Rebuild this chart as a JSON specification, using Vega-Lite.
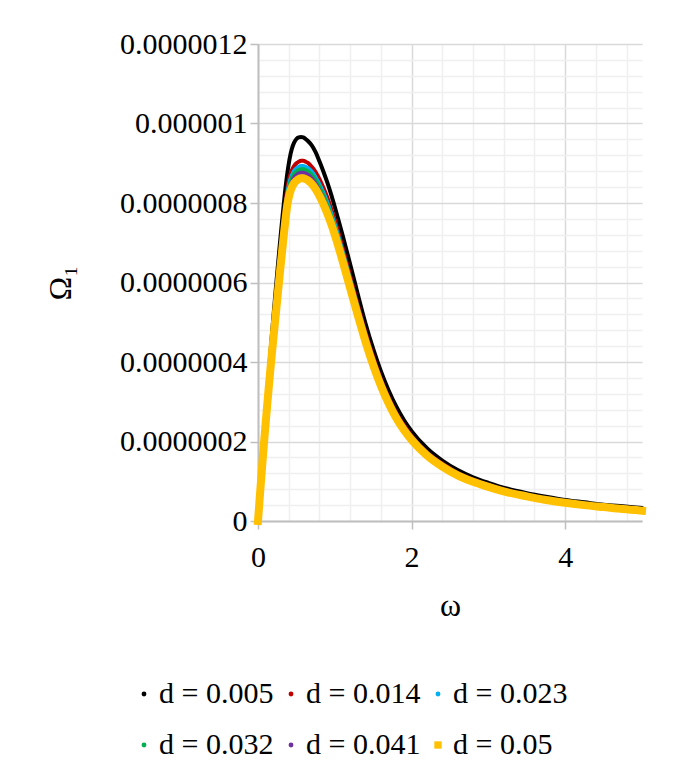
{
  "$schema": "https://vega.github.io/schema/vega-lite/v6.json",
  "width": 384,
  "height": 477,
  "autosize": "none",
  "padding": {"left": 258, "top": 44, "right": 31, "bottom": 258},
  "background": "white",
  "config": {
    "font": "Liberation Serif",
    "view": {"stroke": null},
    "axis": {
      "labelFont": "Liberation Serif",
      "titleFont": "Liberation Serif",
      "labelColor": "#000000",
      "titleColor": "#000000",
      "titleFontWeight": "normal",
      "domainColor": "#bfbfbf",
      "domainWidth": 2,
      "gridWidth": 1.5,
      "tickWidth": 1.5
    },
    "legend": {
      "labelFont": "Liberation Serif",
      "labelFontSize": 30,
      "labelColor": "#000000"
    }
  },
  "data": {
    "values": [
      {"w":0,"d":"d = 0.005","v":0},
      {"w":0.01,"d":"d = 0.005","v":0.028e-6},
      {"w":0.02,"d":"d = 0.005","v":0.056e-6},
      {"w":0.03,"d":"d = 0.005","v":0.084e-6},
      {"w":0.04,"d":"d = 0.005","v":0.111e-6},
      {"w":0.05,"d":"d = 0.005","v":0.138e-6},
      {"w":0.06,"d":"d = 0.005","v":0.165e-6},
      {"w":0.07,"d":"d = 0.005","v":0.192e-6},
      {"w":0.08,"d":"d = 0.005","v":0.218e-6},
      {"w":0.09,"d":"d = 0.005","v":0.244e-6},
      {"w":0.10,"d":"d = 0.005","v":0.270e-6},
      {"w":0.12,"d":"d = 0.005","v":0.321e-6},
      {"w":0.14,"d":"d = 0.005","v":0.371e-6},
      {"w":0.16,"d":"d = 0.005","v":0.420e-6},
      {"w":0.18,"d":"d = 0.005","v":0.467e-6},
      {"w":0.20,"d":"d = 0.005","v":0.513e-6},
      {"w":0.23,"d":"d = 0.005","v":0.580e-6},
      {"w":0.26,"d":"d = 0.005","v":0.645e-6},
      {"w":0.29,"d":"d = 0.005","v":0.708e-6},
      {"w":0.32,"d":"d = 0.005","v":0.768e-6},
      {"w":0.35,"d":"d = 0.005","v":0.824e-6},
      {"w":0.38,"d":"d = 0.005","v":0.872e-6},
      {"w":0.41,"d":"d = 0.005","v":0.910e-6},
      {"w":0.44,"d":"d = 0.005","v":0.936e-6},
      {"w":0.47,"d":"d = 0.005","v":0.952e-6},
      {"w":0.50,"d":"d = 0.005","v":0.961e-6},
      {"w":0.53,"d":"d = 0.005","v":0.965e-6},
      {"w":0.56,"d":"d = 0.005","v":0.966e-6},
      {"w":0.59,"d":"d = 0.005","v":0.965e-6},
      {"w":0.62,"d":"d = 0.005","v":0.961e-6},
      {"w":0.65,"d":"d = 0.005","v":0.956e-6},
      {"w":0.70,"d":"d = 0.005","v":0.945e-6},
      {"w":0.75,"d":"d = 0.005","v":0.928e-6},
      {"w":0.80,"d":"d = 0.005","v":0.905e-6},
      {"w":0.85,"d":"d = 0.005","v":0.880e-6},
      {"w":0.90,"d":"d = 0.005","v":0.853e-6},
      {"w":0.95,"d":"d = 0.005","v":0.823e-6},
      {"w":1.00,"d":"d = 0.005","v":0.790e-6},
      {"w":1.10,"d":"d = 0.005","v":0.720e-6},
      {"w":1.20,"d":"d = 0.005","v":0.646e-6},
      {"w":1.30,"d":"d = 0.005","v":0.570e-6},
      {"w":1.40,"d":"d = 0.005","v":0.497e-6},
      {"w":1.50,"d":"d = 0.005","v":0.433e-6},
      {"w":1.60,"d":"d = 0.005","v":0.377e-6},
      {"w":1.70,"d":"d = 0.005","v":0.329e-6},
      {"w":1.80,"d":"d = 0.005","v":0.288e-6},
      {"w":1.90,"d":"d = 0.005","v":0.254e-6},
      {"w":2.00,"d":"d = 0.005","v":0.226e-6},
      {"w":2.20,"d":"d = 0.005","v":0.183e-6},
      {"w":2.40,"d":"d = 0.005","v":0.152e-6},
      {"w":2.60,"d":"d = 0.005","v":0.128e-6},
      {"w":2.80,"d":"d = 0.005","v":0.110e-6},
      {"w":3.00,"d":"d = 0.005","v":0.096e-6},
      {"w":3.25,"d":"d = 0.005","v":0.081e-6},
      {"w":3.50,"d":"d = 0.005","v":0.070e-6},
      {"w":3.75,"d":"d = 0.005","v":0.061e-6},
      {"w":4.00,"d":"d = 0.005","v":0.053e-6},
      {"w":4.25,"d":"d = 0.005","v":0.047e-6},
      {"w":4.50,"d":"d = 0.005","v":0.041e-6},
      {"w":4.75,"d":"d = 0.005","v":0.037e-6},
      {"w":5.00,"d":"d = 0.005","v":0.033e-6},

      {"w":0,"d":"d = 0.014","v":0},
      {"w":0.01,"d":"d = 0.014","v":0.027e-6},
      {"w":0.02,"d":"d = 0.014","v":0.055e-6},
      {"w":0.03,"d":"d = 0.014","v":0.082e-6},
      {"w":0.04,"d":"d = 0.014","v":0.108e-6},
      {"w":0.05,"d":"d = 0.014","v":0.135e-6},
      {"w":0.06,"d":"d = 0.014","v":0.161e-6},
      {"w":0.07,"d":"d = 0.014","v":0.186e-6},
      {"w":0.08,"d":"d = 0.014","v":0.211e-6},
      {"w":0.09,"d":"d = 0.014","v":0.235e-6},
      {"w":0.10,"d":"d = 0.014","v":0.260e-6},
      {"w":0.12,"d":"d = 0.014","v":0.307e-6},
      {"w":0.14,"d":"d = 0.014","v":0.353e-6},
      {"w":0.16,"d":"d = 0.014","v":0.398e-6},
      {"w":0.18,"d":"d = 0.014","v":0.441e-6},
      {"w":0.20,"d":"d = 0.014","v":0.482e-6},
      {"w":0.23,"d":"d = 0.014","v":0.543e-6},
      {"w":0.26,"d":"d = 0.014","v":0.605e-6},
      {"w":0.29,"d":"d = 0.014","v":0.666e-6},
      {"w":0.32,"d":"d = 0.014","v":0.725e-6},
      {"w":0.35,"d":"d = 0.014","v":0.783e-6},
      {"w":0.38,"d":"d = 0.014","v":0.833e-6},
      {"w":0.41,"d":"d = 0.014","v":0.864e-6},
      {"w":0.44,"d":"d = 0.014","v":0.882e-6},
      {"w":0.47,"d":"d = 0.014","v":0.893e-6},
      {"w":0.50,"d":"d = 0.014","v":0.900e-6},
      {"w":0.53,"d":"d = 0.014","v":0.904e-6},
      {"w":0.56,"d":"d = 0.014","v":0.906e-6},
      {"w":0.59,"d":"d = 0.014","v":0.906e-6},
      {"w":0.62,"d":"d = 0.014","v":0.904e-6},
      {"w":0.65,"d":"d = 0.014","v":0.901e-6},
      {"w":0.70,"d":"d = 0.014","v":0.891e-6},
      {"w":0.75,"d":"d = 0.014","v":0.878e-6},
      {"w":0.80,"d":"d = 0.014","v":0.860e-6},
      {"w":0.85,"d":"d = 0.014","v":0.839e-6},
      {"w":0.90,"d":"d = 0.014","v":0.815e-6},
      {"w":0.95,"d":"d = 0.014","v":0.787e-6},
      {"w":1.00,"d":"d = 0.014","v":0.757e-6},
      {"w":1.10,"d":"d = 0.014","v":0.688e-6},
      {"w":1.20,"d":"d = 0.014","v":0.616e-6},
      {"w":1.30,"d":"d = 0.014","v":0.543e-6},
      {"w":1.40,"d":"d = 0.014","v":0.474e-6},
      {"w":1.50,"d":"d = 0.014","v":0.412e-6},
      {"w":1.60,"d":"d = 0.014","v":0.357e-6},
      {"w":1.70,"d":"d = 0.014","v":0.311e-6},
      {"w":1.80,"d":"d = 0.014","v":0.272e-6},
      {"w":1.90,"d":"d = 0.014","v":0.241e-6},
      {"w":2.00,"d":"d = 0.014","v":0.214e-6},
      {"w":2.20,"d":"d = 0.014","v":0.173e-6},
      {"w":2.40,"d":"d = 0.014","v":0.144e-6},
      {"w":2.60,"d":"d = 0.014","v":0.121e-6},
      {"w":2.80,"d":"d = 0.014","v":0.104e-6},
      {"w":3.00,"d":"d = 0.014","v":0.090e-6},
      {"w":3.25,"d":"d = 0.014","v":0.076e-6},
      {"w":3.50,"d":"d = 0.014","v":0.065e-6},
      {"w":3.75,"d":"d = 0.014","v":0.056e-6},
      {"w":4.00,"d":"d = 0.014","v":0.048e-6},
      {"w":4.25,"d":"d = 0.014","v":0.042e-6},
      {"w":4.50,"d":"d = 0.014","v":0.037e-6},
      {"w":4.75,"d":"d = 0.014","v":0.032e-6},
      {"w":5.00,"d":"d = 0.014","v":0.027e-6},

      {"w":0,"d":"d = 0.023","v":0},
      {"w":0.01,"d":"d = 0.023","v":0.027e-6},
      {"w":0.02,"d":"d = 0.023","v":0.054e-6},
      {"w":0.03,"d":"d = 0.023","v":0.081e-6},
      {"w":0.04,"d":"d = 0.023","v":0.107e-6},
      {"w":0.05,"d":"d = 0.023","v":0.133e-6},
      {"w":0.06,"d":"d = 0.023","v":0.159e-6},
      {"w":0.07,"d":"d = 0.023","v":0.183e-6},
      {"w":0.08,"d":"d = 0.023","v":0.208e-6},
      {"w":0.09,"d":"d = 0.023","v":0.232e-6},
      {"w":0.10,"d":"d = 0.023","v":0.256e-6},
      {"w":0.12,"d":"d = 0.023","v":0.303e-6},
      {"w":0.14,"d":"d = 0.023","v":0.348e-6},
      {"w":0.16,"d":"d = 0.023","v":0.393e-6},
      {"w":0.18,"d":"d = 0.023","v":0.435e-6},
      {"w":0.20,"d":"d = 0.023","v":0.476e-6},
      {"w":0.23,"d":"d = 0.023","v":0.536e-6},
      {"w":0.26,"d":"d = 0.023","v":0.597e-6},
      {"w":0.29,"d":"d = 0.023","v":0.657e-6},
      {"w":0.32,"d":"d = 0.023","v":0.715e-6},
      {"w":0.35,"d":"d = 0.023","v":0.772e-6},
      {"w":0.38,"d":"d = 0.023","v":0.822e-6},
      {"w":0.41,"d":"d = 0.023","v":0.852e-6},
      {"w":0.44,"d":"d = 0.023","v":0.869e-6},
      {"w":0.47,"d":"d = 0.023","v":0.881e-6},
      {"w":0.50,"d":"d = 0.023","v":0.887e-6},
      {"w":0.53,"d":"d = 0.023","v":0.891e-6},
      {"w":0.56,"d":"d = 0.023","v":0.893e-6},
      {"w":0.59,"d":"d = 0.023","v":0.893e-6},
      {"w":0.62,"d":"d = 0.023","v":0.891e-6},
      {"w":0.65,"d":"d = 0.023","v":0.888e-6},
      {"w":0.70,"d":"d = 0.023","v":0.879e-6},
      {"w":0.75,"d":"d = 0.023","v":0.865e-6},
      {"w":0.80,"d":"d = 0.023","v":0.847e-6},
      {"w":0.85,"d":"d = 0.023","v":0.827e-6},
      {"w":0.90,"d":"d = 0.023","v":0.803e-6},
      {"w":0.95,"d":"d = 0.023","v":0.776e-6},
      {"w":1.00,"d":"d = 0.023","v":0.746e-6},
      {"w":1.10,"d":"d = 0.023","v":0.679e-6},
      {"w":1.20,"d":"d = 0.023","v":0.607e-6},
      {"w":1.30,"d":"d = 0.023","v":0.536e-6},
      {"w":1.40,"d":"d = 0.023","v":0.467e-6},
      {"w":1.50,"d":"d = 0.023","v":0.406e-6},
      {"w":1.60,"d":"d = 0.023","v":0.352e-6},
      {"w":1.70,"d":"d = 0.023","v":0.307e-6},
      {"w":1.80,"d":"d = 0.023","v":0.268e-6},
      {"w":1.90,"d":"d = 0.023","v":0.237e-6},
      {"w":2.00,"d":"d = 0.023","v":0.211e-6},
      {"w":2.20,"d":"d = 0.023","v":0.171e-6},
      {"w":2.40,"d":"d = 0.023","v":0.142e-6},
      {"w":2.60,"d":"d = 0.023","v":0.119e-6},
      {"w":2.80,"d":"d = 0.023","v":0.103e-6},
      {"w":3.00,"d":"d = 0.023","v":0.089e-6},
      {"w":3.25,"d":"d = 0.023","v":0.075e-6},
      {"w":3.50,"d":"d = 0.023","v":0.064e-6},
      {"w":3.75,"d":"d = 0.023","v":0.055e-6},
      {"w":4.00,"d":"d = 0.023","v":0.048e-6},
      {"w":4.25,"d":"d = 0.023","v":0.041e-6},
      {"w":4.50,"d":"d = 0.023","v":0.036e-6},
      {"w":4.75,"d":"d = 0.023","v":0.031e-6},
      {"w":5.00,"d":"d = 0.023","v":0.027e-6},

      {"w":0,"d":"d = 0.032","v":0},
      {"w":0.01,"d":"d = 0.032","v":0.027e-6},
      {"w":0.02,"d":"d = 0.032","v":0.053e-6},
      {"w":0.03,"d":"d = 0.032","v":0.080e-6},
      {"w":0.04,"d":"d = 0.032","v":0.106e-6},
      {"w":0.05,"d":"d = 0.032","v":0.131e-6},
      {"w":0.06,"d":"d = 0.032","v":0.157e-6},
      {"w":0.07,"d":"d = 0.032","v":0.182e-6},
      {"w":0.08,"d":"d = 0.032","v":0.206e-6},
      {"w":0.09,"d":"d = 0.032","v":0.230e-6},
      {"w":0.10,"d":"d = 0.032","v":0.254e-6},
      {"w":0.12,"d":"d = 0.032","v":0.300e-6},
      {"w":0.14,"d":"d = 0.032","v":0.345e-6},
      {"w":0.16,"d":"d = 0.032","v":0.389e-6},
      {"w":0.18,"d":"d = 0.032","v":0.431e-6},
      {"w":0.20,"d":"d = 0.032","v":0.471e-6},
      {"w":0.23,"d":"d = 0.032","v":0.531e-6},
      {"w":0.26,"d":"d = 0.032","v":0.592e-6},
      {"w":0.29,"d":"d = 0.032","v":0.651e-6},
      {"w":0.32,"d":"d = 0.032","v":0.709e-6},
      {"w":0.35,"d":"d = 0.032","v":0.765e-6},
      {"w":0.38,"d":"d = 0.032","v":0.814e-6},
      {"w":0.41,"d":"d = 0.032","v":0.844e-6},
      {"w":0.44,"d":"d = 0.032","v":0.862e-6},
      {"w":0.47,"d":"d = 0.032","v":0.873e-6},
      {"w":0.50,"d":"d = 0.032","v":0.879e-6},
      {"w":0.53,"d":"d = 0.032","v":0.883e-6},
      {"w":0.56,"d":"d = 0.032","v":0.885e-6},
      {"w":0.59,"d":"d = 0.032","v":0.885e-6},
      {"w":0.62,"d":"d = 0.032","v":0.883e-6},
      {"w":0.65,"d":"d = 0.032","v":0.880e-6},
      {"w":0.70,"d":"d = 0.032","v":0.871e-6},
      {"w":0.75,"d":"d = 0.032","v":0.858e-6},
      {"w":0.80,"d":"d = 0.032","v":0.840e-6},
      {"w":0.85,"d":"d = 0.032","v":0.820e-6},
      {"w":0.90,"d":"d = 0.032","v":0.796e-6},
      {"w":0.95,"d":"d = 0.032","v":0.769e-6},
      {"w":1.00,"d":"d = 0.032","v":0.739e-6},
      {"w":1.10,"d":"d = 0.032","v":0.673e-6},
      {"w":1.20,"d":"d = 0.032","v":0.602e-6},
      {"w":1.30,"d":"d = 0.032","v":0.531e-6},
      {"w":1.40,"d":"d = 0.032","v":0.463e-6},
      {"w":1.50,"d":"d = 0.032","v":0.403e-6},
      {"w":1.60,"d":"d = 0.032","v":0.349e-6},
      {"w":1.70,"d":"d = 0.032","v":0.304e-6},
      {"w":1.80,"d":"d = 0.032","v":0.266e-6},
      {"w":1.90,"d":"d = 0.032","v":0.235e-6},
      {"w":2.00,"d":"d = 0.032","v":0.210e-6},
      {"w":2.20,"d":"d = 0.032","v":0.169e-6},
      {"w":2.40,"d":"d = 0.032","v":0.141e-6},
      {"w":2.60,"d":"d = 0.032","v":0.118e-6},
      {"w":2.80,"d":"d = 0.032","v":0.102e-6},
      {"w":3.00,"d":"d = 0.032","v":0.088e-6},
      {"w":3.25,"d":"d = 0.032","v":0.074e-6},
      {"w":3.50,"d":"d = 0.032","v":0.064e-6},
      {"w":3.75,"d":"d = 0.032","v":0.054e-6},
      {"w":4.00,"d":"d = 0.032","v":0.047e-6},
      {"w":4.25,"d":"d = 0.032","v":0.041e-6},
      {"w":4.50,"d":"d = 0.032","v":0.036e-6},
      {"w":4.75,"d":"d = 0.032","v":0.031e-6},
      {"w":5.00,"d":"d = 0.032","v":0.027e-6},

      {"w":0,"d":"d = 0.041","v":0},
      {"w":0.01,"d":"d = 0.041","v":0.026e-6},
      {"w":0.02,"d":"d = 0.041","v":0.053e-6},
      {"w":0.03,"d":"d = 0.041","v":0.079e-6},
      {"w":0.04,"d":"d = 0.041","v":0.105e-6},
      {"w":0.05,"d":"d = 0.041","v":0.130e-6},
      {"w":0.06,"d":"d = 0.041","v":0.155e-6},
      {"w":0.07,"d":"d = 0.041","v":0.180e-6},
      {"w":0.08,"d":"d = 0.041","v":0.204e-6},
      {"w":0.09,"d":"d = 0.041","v":0.228e-6},
      {"w":0.10,"d":"d = 0.041","v":0.251e-6},
      {"w":0.12,"d":"d = 0.041","v":0.297e-6},
      {"w":0.14,"d":"d = 0.041","v":0.341e-6},
      {"w":0.16,"d":"d = 0.041","v":0.385e-6},
      {"w":0.18,"d":"d = 0.041","v":0.427e-6},
      {"w":0.20,"d":"d = 0.041","v":0.466e-6},
      {"w":0.23,"d":"d = 0.041","v":0.525e-6},
      {"w":0.26,"d":"d = 0.041","v":0.585e-6},
      {"w":0.29,"d":"d = 0.041","v":0.644e-6},
      {"w":0.32,"d":"d = 0.041","v":0.701e-6},
      {"w":0.35,"d":"d = 0.041","v":0.757e-6},
      {"w":0.38,"d":"d = 0.041","v":0.806e-6},
      {"w":0.41,"d":"d = 0.041","v":0.835e-6},
      {"w":0.44,"d":"d = 0.041","v":0.852e-6},
      {"w":0.47,"d":"d = 0.041","v":0.864e-6},
      {"w":0.50,"d":"d = 0.041","v":0.870e-6},
      {"w":0.53,"d":"d = 0.041","v":0.874e-6},
      {"w":0.56,"d":"d = 0.041","v":0.876e-6},
      {"w":0.59,"d":"d = 0.041","v":0.876e-6},
      {"w":0.62,"d":"d = 0.041","v":0.874e-6},
      {"w":0.65,"d":"d = 0.041","v":0.871e-6},
      {"w":0.70,"d":"d = 0.041","v":0.862e-6},
      {"w":0.75,"d":"d = 0.041","v":0.848e-6},
      {"w":0.80,"d":"d = 0.041","v":0.831e-6},
      {"w":0.85,"d":"d = 0.041","v":0.811e-6},
      {"w":0.90,"d":"d = 0.041","v":0.787e-6},
      {"w":0.95,"d":"d = 0.041","v":0.761e-6},
      {"w":1.00,"d":"d = 0.041","v":0.732e-6},
      {"w":1.10,"d":"d = 0.041","v":0.665e-6},
      {"w":1.20,"d":"d = 0.041","v":0.595e-6},
      {"w":1.30,"d":"d = 0.041","v":0.525e-6},
      {"w":1.40,"d":"d = 0.041","v":0.458e-6},
      {"w":1.50,"d":"d = 0.041","v":0.398e-6},
      {"w":1.60,"d":"d = 0.041","v":0.345e-6},
      {"w":1.70,"d":"d = 0.041","v":0.301e-6},
      {"w":1.80,"d":"d = 0.041","v":0.263e-6},
      {"w":1.90,"d":"d = 0.041","v":0.233e-6},
      {"w":2.00,"d":"d = 0.041","v":0.207e-6},
      {"w":2.20,"d":"d = 0.041","v":0.168e-6},
      {"w":2.40,"d":"d = 0.041","v":0.139e-6},
      {"w":2.60,"d":"d = 0.041","v":0.117e-6},
      {"w":2.80,"d":"d = 0.041","v":0.101e-6},
      {"w":3.00,"d":"d = 0.041","v":0.087e-6},
      {"w":3.25,"d":"d = 0.041","v":0.073e-6},
      {"w":3.50,"d":"d = 0.041","v":0.063e-6},
      {"w":3.75,"d":"d = 0.041","v":0.054e-6},
      {"w":4.00,"d":"d = 0.041","v":0.047e-6},
      {"w":4.25,"d":"d = 0.041","v":0.041e-6},
      {"w":4.50,"d":"d = 0.041","v":0.036e-6},
      {"w":4.75,"d":"d = 0.041","v":0.030e-6},
      {"w":5.00,"d":"d = 0.041","v":0.026e-6},

      {"w":0,"d":"d = 0.05","v":0},
      {"w":0.01,"d":"d = 0.05","v":0.026e-6},
      {"w":0.02,"d":"d = 0.05","v":0.052e-6},
      {"w":0.03,"d":"d = 0.05","v":0.078e-6},
      {"w":0.04,"d":"d = 0.05","v":0.103e-6},
      {"w":0.05,"d":"d = 0.05","v":0.128e-6},
      {"w":0.06,"d":"d = 0.05","v":0.153e-6},
      {"w":0.07,"d":"d = 0.05","v":0.177e-6},
      {"w":0.08,"d":"d = 0.05","v":0.201e-6},
      {"w":0.09,"d":"d = 0.05","v":0.224e-6},
      {"w":0.10,"d":"d = 0.05","v":0.247e-6},
      {"w":0.12,"d":"d = 0.05","v":0.292e-6},
      {"w":0.14,"d":"d = 0.05","v":0.336e-6},
      {"w":0.16,"d":"d = 0.05","v":0.379e-6},
      {"w":0.18,"d":"d = 0.05","v":0.420e-6},
      {"w":0.20,"d":"d = 0.05","v":0.459e-6},
      {"w":0.23,"d":"d = 0.05","v":0.517e-6},
      {"w":0.26,"d":"d = 0.05","v":0.576e-6},
      {"w":0.29,"d":"d = 0.05","v":0.634e-6},
      {"w":0.32,"d":"d = 0.05","v":0.690e-6},
      {"w":0.35,"d":"d = 0.05","v":0.745e-6},
      {"w":0.38,"d":"d = 0.05","v":0.793e-6},
      {"w":0.41,"d":"d = 0.05","v":0.822e-6},
      {"w":0.44,"d":"d = 0.05","v":0.839e-6},
      {"w":0.47,"d":"d = 0.05","v":0.850e-6},
      {"w":0.50,"d":"d = 0.05","v":0.856e-6},
      {"w":0.53,"d":"d = 0.05","v":0.860e-6},
      {"w":0.56,"d":"d = 0.05","v":0.862e-6},
      {"w":0.59,"d":"d = 0.05","v":0.862e-6},
      {"w":0.62,"d":"d = 0.05","v":0.860e-6},
      {"w":0.65,"d":"d = 0.05","v":0.857e-6},
      {"w":0.70,"d":"d = 0.05","v":0.848e-6},
      {"w":0.75,"d":"d = 0.05","v":0.835e-6},
      {"w":0.80,"d":"d = 0.05","v":0.818e-6},
      {"w":0.85,"d":"d = 0.05","v":0.798e-6},
      {"w":0.90,"d":"d = 0.05","v":0.775e-6},
      {"w":0.95,"d":"d = 0.05","v":0.749e-6},
      {"w":1.00,"d":"d = 0.05","v":0.720e-6},
      {"w":1.10,"d":"d = 0.05","v":0.655e-6},
      {"w":1.20,"d":"d = 0.05","v":0.586e-6},
      {"w":1.30,"d":"d = 0.05","v":0.517e-6},
      {"w":1.40,"d":"d = 0.05","v":0.451e-6},
      {"w":1.50,"d":"d = 0.05","v":0.392e-6},
      {"w":1.60,"d":"d = 0.05","v":0.340e-6},
      {"w":1.70,"d":"d = 0.05","v":0.296e-6},
      {"w":1.80,"d":"d = 0.05","v":0.259e-6},
      {"w":1.90,"d":"d = 0.05","v":0.229e-6},
      {"w":2.00,"d":"d = 0.05","v":0.204e-6},
      {"w":2.20,"d":"d = 0.05","v":0.165e-6},
      {"w":2.40,"d":"d = 0.05","v":0.137e-6},
      {"w":2.60,"d":"d = 0.05","v":0.115e-6},
      {"w":2.80,"d":"d = 0.05","v":0.099e-6},
      {"w":3.00,"d":"d = 0.05","v":0.086e-6},
      {"w":3.25,"d":"d = 0.05","v":0.072e-6},
      {"w":3.50,"d":"d = 0.05","v":0.062e-6},
      {"w":3.75,"d":"d = 0.05","v":0.053e-6},
      {"w":4.00,"d":"d = 0.05","v":0.046e-6},
      {"w":4.25,"d":"d = 0.05","v":0.040e-6},
      {"w":4.50,"d":"d = 0.05","v":0.035e-6},
      {"w":4.75,"d":"d = 0.05","v":0.030e-6},
      {"w":5.00,"d":"d = 0.05","v":0.026e-6}
    ]
  },
  "encoding": {
    "x": {
      "field": "w",
      "type": "quantitative",
      "title": "ω",
      "scale": {"domain": [0, 5], "nice": false, "zero": false},
      "axis": {
        "values": [0, 0.4, 0.8, 1.2, 1.6, 2, 2.4, 2.8, 3.2, 3.6, 4, 4.4, 4.8],
        "labelExpr": "datum.value % 2 === 0 ? format(datum.value, 'd') : ''",
        "grid": true,
        "gridColor": {"condition": {"test": "datum.value % 2 === 0", "value": "#d9d9d9"}, "value": "#efefef"},
        "tickColor": {"condition": {"test": "datum.value % 2 === 0", "value": "#bfbfbf"}, "value": "transparent"},
        "tickSize": 8,
        "labelFontSize": 30,
        "labelPadding": 13,
        "labelFlush": false,
        "titleFontSize": 32,
        "titlePadding": 18
      }
    },
    "y": {
      "field": "v",
      "type": "quantitative",
      "title": "Ω₁",
      "scale": {"domain": [0, 1.2e-6], "nice": false},
      "axis": {
        "values": [0, 0.04e-6, 0.08e-6, 0.12e-6, 0.16e-6, 0.2e-6, 0.24e-6, 0.28e-6, 0.32e-6, 0.36e-6, 0.4e-6, 0.44e-6, 0.48e-6, 0.52e-6, 0.56e-6, 0.6e-6, 0.64e-6, 0.68e-6, 0.72e-6, 0.76e-6, 0.8e-6, 0.84e-6, 0.88e-6, 0.92e-6, 0.96e-6, 1.0e-6, 1.04e-6, 1.08e-6, 1.12e-6, 1.16e-6, 1.2e-6],
        "labelExpr": "abs(datum.value / 2e-7 - round(datum.value / 2e-7)) < 0.01 ? format(datum.value, '.7~f') : ''",
        "grid": true,
        "gridColor": {"condition": {"test": "abs(datum.value / 2e-7 - round(datum.value / 2e-7)) < 0.01", "value": "#d9d9d9"}, "value": "#efefef"},
        "tickColor": {"condition": {"test": "abs(datum.value / 2e-7 - round(datum.value / 2e-7)) < 0.01", "value": "#bfbfbf"}, "value": "transparent"},
        "tickSize": 8,
        "labelFontSize": 30,
        "labelPadding": 3,
        "labelFlush": false,
        "titleFontSize": 32,
        "titlePadding": 42
      }
    }
  },
  "layer": [
    {
      "transform": [{"filter": "datum.d !== 'd = 0.05'"}],
      "mark": {"type": "line", "interpolate": "monotone", "strokeWidth": 4, "strokeCap": "round", "strokeJoin": "round"},
      "encoding": {
        "stroke": {
          "field": "d",
          "type": "nominal",
          "legend": null,
          "scale": {
            "domain": ["d = 0.005", "d = 0.014", "d = 0.023", "d = 0.032", "d = 0.041"],
            "range": ["#000000", "#c00000", "#00b0f0", "#00b050", "#7030a0"]
          }
        }
      }
    },
    {
      "transform": [{"filter": "datum.d === 'd = 0.05'"}],
      "mark": {"type": "line", "interpolate": "monotone", "strokeWidth": 8, "strokeCap": "square", "strokeJoin": "round", "color": "#ffc000"},
      "encoding": {}
    },
    {
      "transform": [{"filter": "datum.w < 0"}],
      "mark": {"type": "point", "filled": true, "opacity": 1},
      "encoding": {
        "color": {
          "field": "d",
          "type": "nominal",
          "scale": {
            "domain": ["d = 0.005", "d = 0.014", "d = 0.023", "d = 0.032", "d = 0.041", "d = 0.05"],
            "range": ["#000000", "#c00000", "#00b0f0", "#00b050", "#7030a0", "#ffc000"]
          },
          "legend": {
            "title": null,
            "orient": "none",
            "legendX": -129,
            "legendY": 635,
            "direction": "horizontal",
            "columns": 3,
            "padding": 0,
            "labelFont": "Liberation Serif",
            "labelFontSize": 30,
            "labelColor": "#000000",
            "labelOffset": 0,
            "columnPadding": 2,
            "rowPadding": 21,
            "symbolSize": 24,
            "symbolStrokeWidth": 0,
            "symbolOpacity": 1
          }
        },
        "shape": {
          "field": "d",
          "type": "nominal",
          "scale": {
            "domain": ["d = 0.005", "d = 0.014", "d = 0.023", "d = 0.032", "d = 0.041", "d = 0.05"],
            "range": ["circle", "circle", "circle", "circle", "circle", "M-1.5,-1.5H1.5V1.5H-1.5Z"]
          },
          "legend": {"title": null}
        }
      }
    }
  ]
}
